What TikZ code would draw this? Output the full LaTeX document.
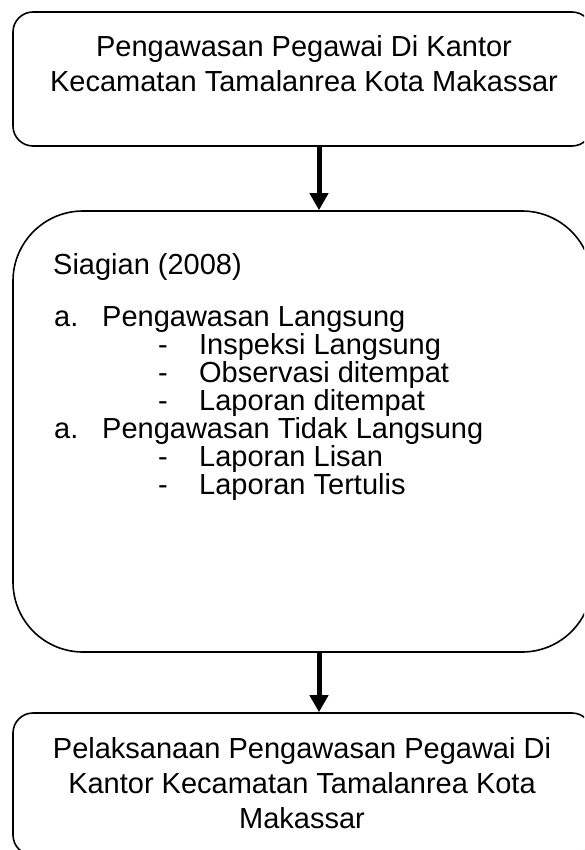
\documentclass[tikz,border=0pt]{standalone}
\usepackage{fontspec}
\setmainfont{Liberation Sans}
\usetikzlibrary{arrows.meta}

\begin{document}
\begin{tikzpicture}[x=1pt, y=-1pt,
    every node/.style={font=\fontsize{29}{35}\selectfont, inner sep=0pt},
    box/.style={draw=black, line width=1.6pt, minimum width=579pt},
    flow/.style={draw=black, line width=5pt,
        -{Triangle[length=17pt, width=18pt]}},
    item/.style={anchor=base west},
    title/.style={anchor=north, align=center}
]
\useasboundingbox (0,0) rectangle (584,850);
\clip (0,0) rectangle (584,850);
% boxes
\node[box, rounded corners=20pt, minimum height=134pt]
    (top) at (302.5, 79) {};
\node[box, rounded corners=70pt, minimum height=441pt]
    (mid) at (302.5, 431.5) {};
\node[box, rounded corners=20pt, minimum height=142pt]
    (bot) at (302.5, 784) {};
% arrows
\coordinate (ax) at (319, 0);
\draw[flow] (top.south -| ax) -- (mid.north -| ax);
\draw[flow] (mid.south -| ax) -- (bot.north -| ax);
% texts
\node[title] (toptxt) at (304, 35)
    {Pengawasan Pegawai Di Kantor\\Kecamatan Tamalanrea Kota Makassar};
\node[item] (sia) at (53, 274) {Siagian (2008)};
\node[item] (ia) at (54, 326) {\makebox[48pt][l]{a.}Pengawasan Langsung};
\node[item] (ia1) at (158, 354) {\makebox[41pt][l]{-}Inspeksi Langsung};
\node[item] (ia2) at (158, 382) {\makebox[41pt][l]{-}Observasi ditempat};
\node[item] (ia3) at (158, 410) {\makebox[41pt][l]{-}Laporan ditempat};
\node[item] (ib) at (54, 438)
    {\makebox[48pt][l]{a.}Pengawasan Tidak Langsung};
\node[item] (ib1) at (158, 466) {\makebox[41pt][l]{-}Laporan Lisan};
\node[item] (ib2) at (158, 494) {\makebox[41pt][l]{-}Laporan Tertulis};
\node[title] (bottxt) at (302, 737)
    {Pelaksanaan Pengawasan Pegawai Di\\Kantor Kecamatan Tamalanrea Kota\\Makassar};
\end{tikzpicture}
\end{document}
